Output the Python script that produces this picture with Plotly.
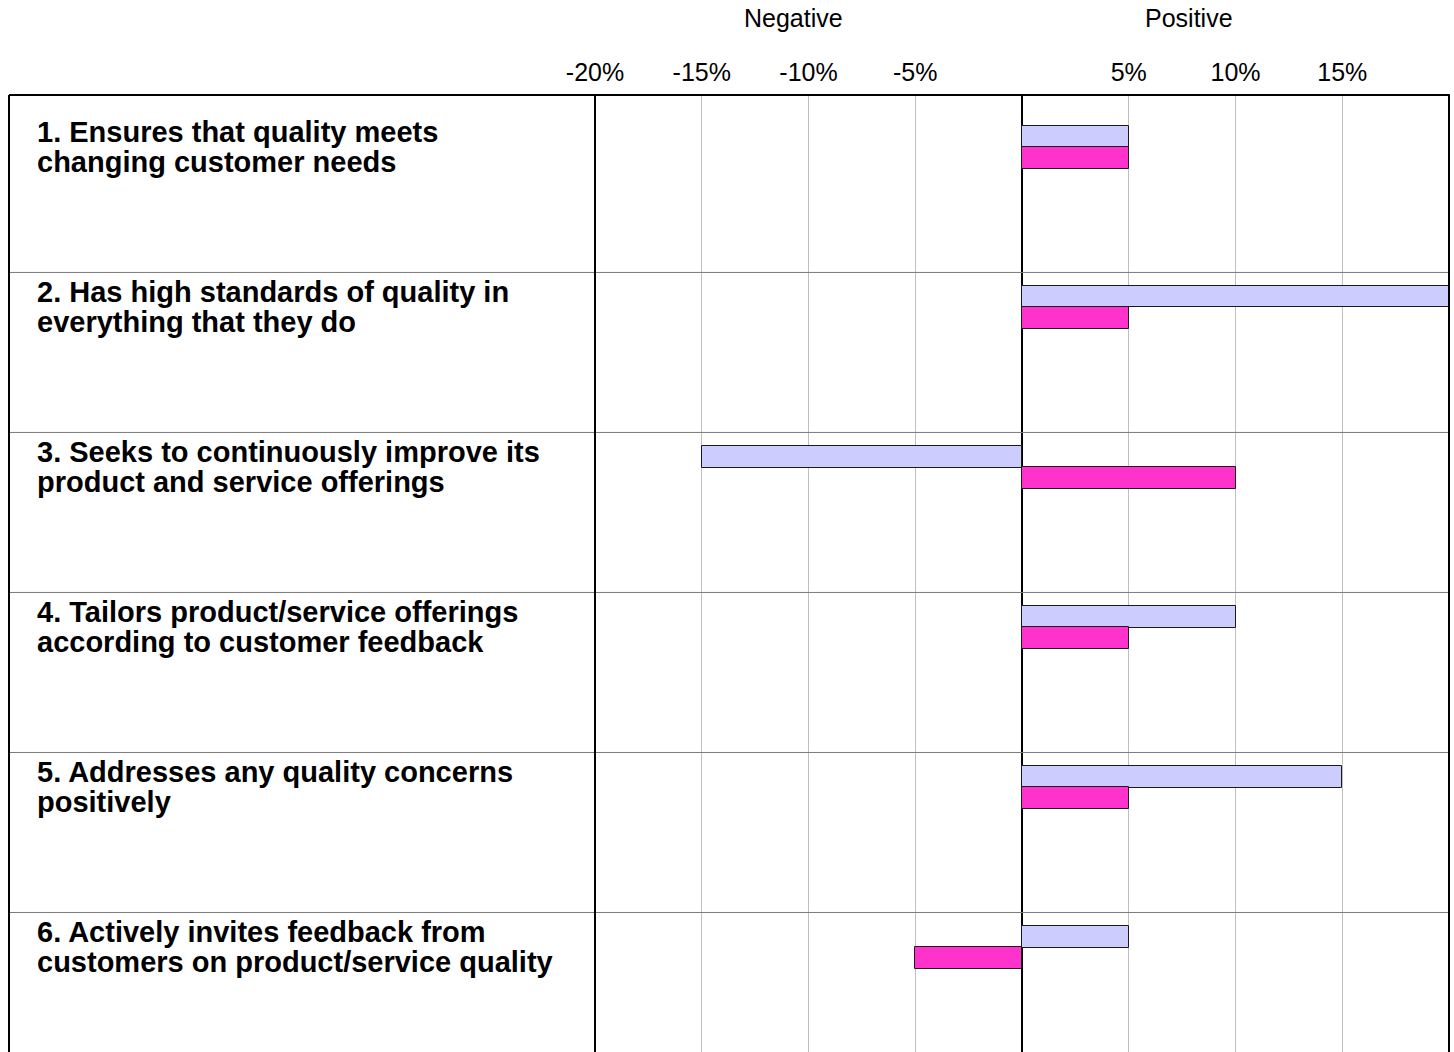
import plotly.graph_objects as go

# Survey statements (each split over two lines) and the two series of net scores (%)
statements = [
    ("1. Ensures that quality meets", "changing customer needs"),
    ("2. Has high standards of quality in", "everything that they do"),
    ("3. Seeks to continuously improve its", "product and service offerings"),
    ("4. Tailors product/service offerings", "according to customer feedback"),
    ("5. Addresses any quality concerns", "positively"),
    ("6. Actively invites feedback from", "customers on product/service quality"),
]
row_ids = [1, 2, 3, 4, 5, 6]
series_a = [5, 20, -15, 10, 15, 5]     # lavender bars
series_b = [5, 5, 10, 5, 5, -5]        # pink bars

tick_values = [-20, -15, -10, -5, 5, 10, 15]
tick_labels = ["-20%", "-15%", "-10%", "-5%", "5%", "10%", "15%"]

FONT = "Liberation Sans, Arial, Helvetica, sans-serif"
W, H = 1454, 1052
L, R, T, B = 595, 5, 95, 0
Y_TOP, Y_BOTTOM = 0.391, 6.372
PLOT_W = W - L - R
LEFT_EDGE = (9 - L) / PLOT_W           # outer table border, in paper units

fig = go.Figure()
fig.add_trace(go.Bar(
    y=row_ids, x=series_a, orientation="h",
    width=0.135, offset=-0.416,
    marker=dict(color="#CCCCFF", line=dict(color="#1a1a1a", width=1)),
    hoverinfo="x", showlegend=False,
))
fig.add_trace(go.Bar(
    y=row_ids, x=series_b, orientation="h",
    width=0.134, offset=-0.282,
    marker=dict(color="#FF33CC", line=dict(color="#1a1a1a", width=1)),
    hoverinfo="x", showlegend=False,
))

shapes = []
# row separators across label column and plot
for r in row_ids[:-1]:
    shapes.append(dict(type="line", xref="paper", yref="y",
                       x0=LEFT_EDGE, x1=1, y0=r + 0.5, y1=r + 0.5,
                       line=dict(color="#7a7a7a", width=1), layer="above"))
# outer frame: top, left, right, and the label/plot divider
shapes.append(dict(type="line", xref="paper", yref="paper",
                   x0=LEFT_EDGE, x1=1.001, y0=1, y1=1,
                   line=dict(color="black", width=2), layer="above"))
shapes.append(dict(type="line", xref="paper", yref="paper",
                   x0=LEFT_EDGE, x1=LEFT_EDGE, y0=0, y1=1,
                   line=dict(color="black", width=2), layer="above"))
shapes.append(dict(type="line", xref="paper", yref="paper",
                   x0=1, x1=1, y0=0, y1=1,
                   line=dict(color="black", width=2), layer="above"))
shapes.append(dict(type="line", xref="paper", yref="paper",
                   x0=0, x1=0, y0=0, y1=1,
                   line=dict(color="black", width=2), layer="above"))

annotations = []
for r, (line1, line2) in zip(row_ids, statements):
    for k, txt in enumerate((line1, line2)):
        annotations.append(dict(
            xref="paper", yref="y", x=(35 - L) / PLOT_W, xanchor="left",
            y=r - 0.378 + k * 0.1875, yanchor="middle",
            text=f"<b>{txt}</b>", showarrow=False,
            font=dict(family=FONT, size=29, color="black"),
        ))
for label, xpos in (("Negative", -10.68), ("Positive", 7.82)):
    annotations.append(dict(
        xref="x", yref="paper", x=xpos, y=1 + (T - 18) / (H - T - B),
        xanchor="center", yanchor="middle", text=label, showarrow=False,
        font=dict(family=FONT, size=25, color="black"),
    ))

fig.update_layout(
    width=W, height=H,
    margin=dict(l=L, r=R, t=T, b=B, pad=0),
    paper_bgcolor="white", plot_bgcolor="white",
    barmode="overlay", bargap=0,
    font=dict(family=FONT, size=25, color="black"),
    shapes=shapes, annotations=annotations,
    xaxis=dict(
        range=[-20, 20], side="top", tickvals=tick_values, ticktext=tick_labels,
        showgrid=True, gridcolor="#C0C0C0", gridwidth=1,
        zeroline=True, zerolinecolor="black", zerolinewidth=2,
        showline=False, ticks="", ticklabelstandoff=8,
        tickfont=dict(family=FONT, size=25, color="black"),
        fixedrange=True,
    ),
    yaxis=dict(
        range=[Y_BOTTOM, Y_TOP], showgrid=False, zeroline=False,
        showticklabels=False, ticks="", showline=False, fixedrange=True,
    ),
)

fig.write_html("out.html", config={"displayModeBar": False})
